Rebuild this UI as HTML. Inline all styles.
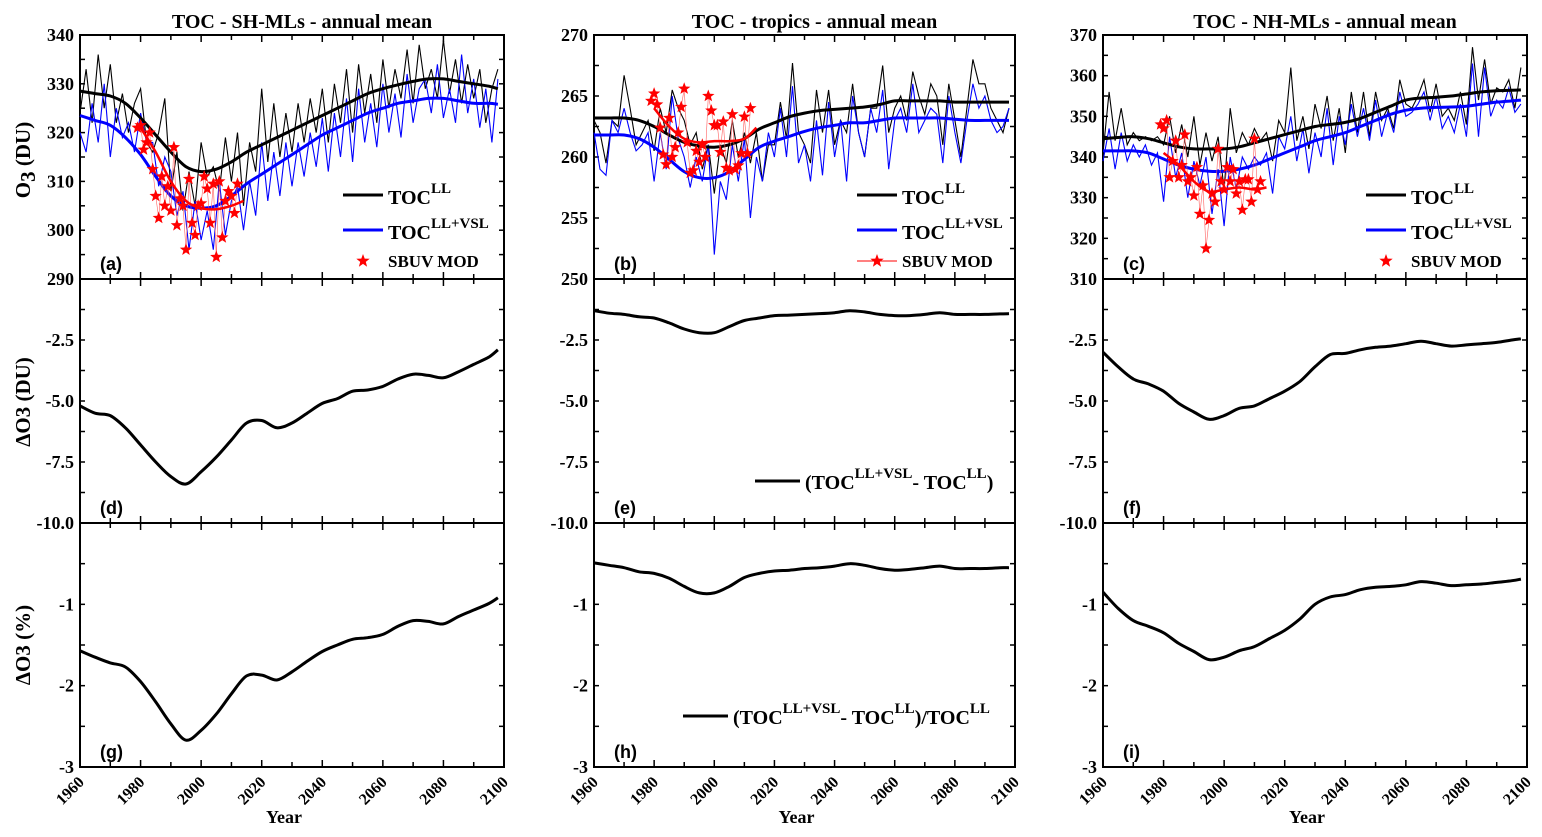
<!DOCTYPE html>
<html><head><meta charset="utf-8"><style>
body{margin:0;background:#fff;}
svg{display:block;font-family:"Liberation Serif",serif;font-weight:bold;}
</style></head><body>
<svg id="chart" width="1542" height="837" viewBox="0 0 1542 837" xmlns="http://www.w3.org/2000/svg"></svg>
<script>
// ---------- DATA ----------
const smoothYears5 = [1960,1965,1970,1975,1980,1985,1990,1995,2000,2005,2010,2015,2020,2025,2030,2035,2040,2045,2050,2055,2060,2065,2070,2075,2080,2085,2090,2095,2098];
const noisyStartYear = 1960; // annual values every 2 years
const sbuvYears = [1979,1980,1981,1982,1983,1984,1985,1986,1987,1988,1989,1990,1991,1992,1993,1994,1995,1996,1997,1998,1999,2000,2001,2002,2003,2004,2005,2006,2007,2008,2009,2010,2011,2012];
const fitYears = [1980,1985,1990,1995,2000,2005,2010,2014];

// SH-MLs
const shLL = [328.5,328,327.5,326,323,319.5,316,313,312,312.5,314,316,317.5,319,320.5,322,323.5,325,326.5,328,329,329.8,330.5,331,331,330.5,330,329.5,329];
const shVSL = [323.5,322.5,321.5,319,315.5,311,307,305,304.5,305,307,309.5,311.5,313.5,315.5,317.5,319.5,321,322.5,324,325,326,326.5,327,327,326.5,326,326,325.8];
const shLLnoisy = [324,333,322,336,325,334,322,328,320,326,329,318,316,320,327,308,316,304,312,305,318,311,313,308,319,310,320,305,318,312,329,314,326,315,324,316,326,318,327,320,329,318,330,322,333,320,334,324,332,322,335,325,333,327,337,326,338,329,333,327,339,328,335,326,334,327,333,322,329,333];
const shVSLnoisy = [320,316,326,318,330,315,325,319,322,316,324,318,318,309,315,312,303,308,296,306,298,304,296,310,299,306,309,300,310,303,318,306,316,307,318,309,318,311,320,313,323,312,324,315,327,314,329,318,326,317,330,320,328,319,332,322,329,331,324,334,323,329,322,336,324,331,321,329,318,331];
const shSBUV = [321,321.5,316.5,318,320,312.5,307,302.5,311,305,309,304,317,301,306.5,305,296,310.5,301.5,299,305,305.5,311,308.5,301.5,309.5,294.5,310,298.5,306,308,307,303.5,309.5];
const shFit = [321,316,310,306,304.5,304.3,305,306];

// Tropics
const trLL = [263.2,263.2,263.2,263,262.5,261.8,261.2,260.9,260.8,261,261.5,262.3,262.8,263.3,263.6,263.8,263.9,264,264.1,264.3,264.6,264.6,264.6,264.6,264.5,264.5,264.5,264.5,264.5];
const trVSL = [261.8,261.8,261.8,261.5,260.8,259.8,258.8,258.3,258.3,258.8,259.8,260.8,261.3,261.7,262.1,262.4,262.6,262.8,262.8,263,263.2,263.2,263.2,263.2,263.1,263,263,263,263];
const trLLnoisy = [263,262,259.5,263,262.5,266.7,264,261,262,263,260.5,264,262,265.5,264,263,261,262,259,261,257,261,259.5,263,260,262,259.5,262,258,261,261,264.5,261.5,267.7,262,261,259.5,265.5,262,265.5,261,263,262,266,262,260,264,264,267.5,262,264,265,263,267,265,263.5,266,265,261,266,263,260,264,268,266,266,264,263,262,264];
const trVSLnoisy = [262,259,258.5,263,262,264,262,260.5,261,262,258,262,259,265,261.5,260,257.5,260,258,261,252,258,256.5,261,258,261.5,255,260,258,262,260,264,260,265.8,259.5,261,258,263,258.5,264.5,260,263,258,265,262,260,264,262,265.5,259,263,264,262,266,262,263,264,263.5,259.5,265,262,259.5,263,266,264,265,263,262,262.5,264];
const trSBUV = [264.6,265.2,264.3,262.4,260.2,259.4,263.2,260,260.8,262,264.1,265.6,261.2,258.7,258.9,260.5,259.6,261,260,265,263.8,262.6,262.6,260.4,262.9,259.1,258.9,263.5,259,259.3,260.3,263.3,260.3,264];
const trFit = [264,262.5,261.5,261.2,261.3,261.3,261.5,262.4];

// NH-MLs
const nhLL = [344.5,344.8,345,344.5,343.5,342.5,342,342,342,342.5,343.5,344.5,345.5,346.5,347.5,348,348.5,349.5,351,352.5,354,354.5,354.7,355,355.5,356,356.3,356.4,356.5];
const nhVSL = [341.5,341.5,341.5,341,339.5,338,337,336.5,336.5,337,338,339.5,341,342.5,344,345,346,347.5,349,350.5,351.5,352,352.2,352.3,352.5,353,353.5,353.8,354];
const nhLLnoisy = [341,356,344,352,343,346,344,345,344,345,343,350,341,348,340,350,338,346,339,345,332,352,341,346,343,347,344,346,339,349,346,362,344,350,342,353,347,355,344,352,341,356,346,356,345,356,349,352,347,359,353,352,355,359,351,358,350,352,349,356,348,367,354,364,353,357,356,359,352,362];
const nhVSLnoisy = [339,347,337,346,339,343,340,343,338,341,329,345,335,341,330,339,333,340,326,337,323,340,332,340,337,340,338,341,331,345,342,350,339,347,336,346,340,352,338,350,343,353,345,352,344,354,345,351,346,356,350,351,353,356,349,355,347,350,346,353,345,363,345,362,350,354,352,357,351,353];
const nhSBUV = [348,347,349,335,339,344,335,338,345.5,334,335,330.5,337.5,326,333,317.5,324.5,331,329,342,334,332,337.5,334,337,331,334,327,334.5,334.5,329,344.5,332,334];
const nhFit = [341,338,334,331.5,332,332.5,332,332.5];

// Differences (DU)
const shDiffDU = [-5.2,-5.5,-5.6,-6.1,-6.8,-7.5,-8.1,-8.4,-7.9,-7.3,-6.6,-5.9,-5.8,-6.1,-5.9,-5.5,-5.1,-4.9,-4.6,-4.55,-4.4,-4.1,-3.9,-3.95,-4.05,-3.8,-3.5,-3.2,-2.9];
const trDiffDU = [-1.3,-1.4,-1.45,-1.55,-1.6,-1.8,-2.05,-2.2,-2.2,-1.95,-1.7,-1.6,-1.5,-1.48,-1.45,-1.42,-1.38,-1.3,-1.35,-1.45,-1.5,-1.5,-1.45,-1.38,-1.45,-1.45,-1.45,-1.43,-1.42];
const nhDiffDU = [-3.0,-3.6,-4.1,-4.3,-4.6,-5.1,-5.45,-5.75,-5.6,-5.3,-5.2,-4.9,-4.6,-4.2,-3.6,-3.1,-3.05,-2.9,-2.8,-2.75,-2.65,-2.55,-2.65,-2.75,-2.7,-2.65,-2.6,-2.5,-2.45];
// Differences (%)
const shDiffPct = [-1.57,-1.65,-1.72,-1.77,-1.95,-2.2,-2.47,-2.67,-2.55,-2.35,-2.1,-1.88,-1.87,-1.93,-1.83,-1.7,-1.58,-1.5,-1.43,-1.41,-1.37,-1.27,-1.2,-1.21,-1.24,-1.15,-1.07,-0.99,-0.92];
const trDiffPct = [-0.49,-0.52,-0.55,-0.6,-0.62,-0.68,-0.78,-0.86,-0.86,-0.78,-0.67,-0.62,-0.59,-0.58,-0.56,-0.55,-0.53,-0.5,-0.52,-0.56,-0.58,-0.57,-0.55,-0.53,-0.56,-0.56,-0.56,-0.55,-0.55];
const nhDiffPct = [-0.85,-1.05,-1.2,-1.27,-1.35,-1.48,-1.58,-1.68,-1.65,-1.57,-1.52,-1.42,-1.32,-1.18,-1.0,-0.91,-0.88,-0.82,-0.79,-0.78,-0.76,-0.72,-0.74,-0.77,-0.76,-0.75,-0.73,-0.71,-0.69];

const xTickYears = [1960,1980,2000,2020,2040,2060,2080,2100];
const titles = ["TOC - SH-MLs - annual mean","TOC -  tropics - annual mean","TOC - NH-MLs - annual mean"];

// ---------- LAYOUT ----------
const svg = document.getElementById('chart');
const NS = 'http://www.w3.org/2000/svg';
function mk(tag, attrs, parent){const e=document.createElementNS(NS,tag);for(const k in attrs)e.setAttribute(k,attrs[k]);(parent||svg).appendChild(e);return e;}

const cols = [{x0:80,x1:504},{x0:594,x1:1015},{x0:1103,x1:1527}];
const rows = [{y0:35,y1:279},{y0:279,y1:523},{y0:523,y1:767}];
const topRanges = [[290,340],[250,270],[310,370]];
const topData = [
 {ll:shLL,vsl:shVSL,lln:shLLnoisy,vsln:shVSLnoisy,sb:shSBUV,fit:shFit},
 {ll:trLL,vsl:trVSL,lln:trLLnoisy,vsln:trVSLnoisy,sb:trSBUV,fit:trFit},
 {ll:nhLL,vsl:nhVSL,lln:nhLLnoisy,vsln:nhVSLnoisy,sb:nhSBUV,fit:nhFit}];
const duData=[shDiffDU,trDiffDU,nhDiffDU], pctData=[shDiffPct,trDiffPct,nhDiffPct];
const letters=[['a','d','g'],['b','e','h'],['c','f','i']];

function xS(c,yr){return c.x0+(yr-1960)/140*(c.x1-c.x0);}
function yS(r,rng,v){return r.y1-(v-rng[0])/(rng[1]-rng[0])*(r.y1-r.y0);}
function smoothPath(pts){
  let d='M'+pts[0][0].toFixed(1)+','+pts[0][1].toFixed(1);
  for(let i=0;i<pts.length-1;i++){
    const p0=pts[i-1]||pts[i],p1=pts[i],p2=pts[i+1],p3=pts[i+2]||p2;
    const c1=[p1[0]+(p2[0]-p0[0])/6,p1[1]+(p2[1]-p0[1])/6],c2=[p2[0]-(p3[0]-p1[0])/6,p2[1]-(p3[1]-p1[1])/6];
    d+='C'+c1.map(v=>v.toFixed(1))+' '+c2.map(v=>v.toFixed(1))+' '+p2.map(v=>v.toFixed(1));
  }
  return d;
}
function polyPath(pts){return 'M'+pts.map(p=>p[0].toFixed(1)+','+p[1].toFixed(1)).join('L');}
function star(cx,cy,r){let p=[];for(let i=0;i<10;i++){const a=-Math.PI/2+i*Math.PI/5,rr=i%2?r*0.42:r;p.push((cx+rr*Math.cos(a)).toFixed(1)+','+(cy+rr*Math.sin(a)).toFixed(1));}return p.join(' ');}
function label(x,y,txt,size,anchor,name,extra){const t=mk('text',Object.assign({x:x,y:y,'font-size':size,'text-anchor':anchor||'start'},extra||{}));t.textContent=txt;return t;}

function drawAxes(c,r,rng,ticks,tickLabels,minorStep,ci,ri){
  const g=mk('g',{});
  
  
  mk('rect',{x:c.x0,y:r.y0,width:c.x1-c.x0,height:r.y1-r.y0,fill:'none',stroke:'#000','stroke-width':2},g);
  for(let yr=1960;yr<=2100;yr+=10){
    const x=xS(c,yr),L=yr%20===0?7:5;
    mk('line',{x1:x,x2:x,y1:r.y1,y2:r.y1-L,stroke:'#000','stroke-width':1.5},g);
    mk('line',{x1:x,x2:x,y1:r.y0,y2:r.y0+L,stroke:'#000','stroke-width':1.5},g);
  }
  for(let v=rng[0];v<=rng[1]+1e-9;v+=minorStep){
    const y=yS(r,rng,v);
    mk('line',{x1:c.x0,x2:c.x0+5,y1:y,y2:y,stroke:'#000','stroke-width':1.5},g);
    mk('line',{x1:c.x1,x2:c.x1-5,y1:y,y2:y,stroke:'#000','stroke-width':1.5},g);
  }
  ticks.forEach((v,i)=>{
    const y=yS(r,rng,v);
    label(c.x0-6,y+6,tickLabels[i],18,'end','y-tick-label');
  });
  label(c.x0+20,r.y1-9,'('+letters[ci][ri]+')',18,'start','panel-label-'+letters[ci][ri],{'font-family':'Liberation Sans, sans-serif'});
}

cols.forEach((c,ci)=>{
  label((c.x0+c.x1)/2+10,28,titles[ci],20,'middle','panel-title');
  const r=rows[0],rng=topRanges[ci],D=topData[ci];
  const step=ci===1?5:10;
  const tks=[],tkl=[];
  for(let v=rng[0];v<=rng[1];v+=step){tks.push(v);tkl.push(String(v));}
  drawAxes(c,r,rng,tks,tkl,step/2,ci,0);
  const np=a=>a.map((v,i)=>[xS(c,noisyStartYear+i*2),yS(r,rng,v)]);
  const l1=mk('path',{d:polyPath(np(D.lln)),fill:'none',stroke:'#000','stroke-width':1.1});
  
  
  const l2=mk('path',{d:polyPath(np(D.vsln)),fill:'none',stroke:'#0000ff','stroke-width':1.1});
  
  
  const sp=a=>a.map((v,i)=>[xS(c,smoothYears5[i]),yS(r,rng,v)]);
  const s1=mk('path',{d:smoothPath(sp(D.ll)),fill:'none',stroke:'#000','stroke-width':3});
  
  
  const s2=mk('path',{d:smoothPath(sp(D.vsl)),fill:'none',stroke:'#0000ff','stroke-width':3});
  
  
  const sbPts=D.sb.map((v,i)=>[xS(c,sbuvYears[i]),yS(r,rng,v)]);
  const sl=mk('path',{d:polyPath(sbPts),fill:'none',stroke:'#ff6060','stroke-width':0.6});
  
  
  const fp=mk('path',{d:smoothPath(D.fit.map((v,i)=>[xS(c,fitYears[i]),yS(r,rng,v)])),fill:'none',stroke:'#ff0000','stroke-width':2.5});
  
  
  sbPts.forEach(p=>{
    const s=mk('polygon',{points:star(p[0],p[1],6.5),fill:'#ff0000'});
    
    
  });
  const lx=c.x0+263;
  const lg=mk('g',{});
  
  
  mk('line',{x1:lx,x2:lx+40,y1:195,y2:195,stroke:'#000','stroke-width':3},lg);
  mk('line',{x1:lx,x2:lx+40,y1:230,y2:230,stroke:'#0000ff','stroke-width':3},lg);
  if(ci===1) mk('line',{x1:lx,x2:lx+40,y1:261,y2:261,stroke:'#ff0000','stroke-width':1},lg);
  mk('polygon',{points:star(lx+20,261,7),fill:'#ff0000'},lg);
  const t1=label(lx+45,204,'TOC',20,'start','legend-entry-toc-ll');
  const ts1=mk('tspan',{dy:-11,'font-size':15},t1);ts1.textContent='LL';
  const t2=label(lx+45,239,'TOC',20,'start','legend-entry-toc-ll-vsl');
  const ts2=mk('tspan',{dy:-11,'font-size':15},t2);ts2.textContent='LL+VSL';
  label(lx+45,267,'SBUV MOD',17,'start','legend-entry-sbuv');

  const r2=rows[1],rng2=[-10,0];
  drawAxes(c,r2,rng2,[-2.5,-5,-7.5,-10],['-2.5','-5.0','-7.5','-10.0'],1.25,ci,1);
  const d1=mk('path',{d:smoothPath(duData[ci].map((v,i)=>[xS(c,smoothYears5[i]),yS(r2,rng2,v)])),fill:'none',stroke:'#000','stroke-width':3});
  
  
  const r3=rows[2],rng3=[-3,0];
  drawAxes(c,r3,rng3,[-1,-2,-3],['-1','-2','-3'],0.5,ci,2);
  const d2=mk('path',{d:smoothPath(pctData[ci].map((v,i)=>[xS(c,smoothYears5[i]),yS(r3,rng3,v)])),fill:'none',stroke:'#000','stroke-width':3});
  
  
  xTickYears.forEach(yr=>{
    const x=xS(c,yr)+5,y=783;
    label(x,y,String(yr),16,'end','x-tick-label',{transform:'rotate(-45 '+x+' '+y+')'});
  });
  label((c.x0+c.x1)/2-8,823,'Year',18,'middle','x-axis-title');
});

let e1=mk('line',{x1:755,x2:800,y1:481,y2:481,stroke:'#000','stroke-width':3});


let et=label(805,489,'(TOC',20,'start','legend-entry-diff-du');
let a=mk('tspan',{dy:-11,'font-size':15},et);a.textContent='LL+VSL';
a=mk('tspan',{dy:11},et);a.textContent='- TOC';
a=mk('tspan',{dy:-11,'font-size':15},et);a.textContent='LL';
a=mk('tspan',{dy:11},et);a.textContent=')';
let h1=mk('line',{x1:683,x2:728,y1:716,y2:716,stroke:'#000','stroke-width':3});


et=label(733,724,'(TOC',20,'start','legend-entry-diff-percent');
a=mk('tspan',{dy:-11,'font-size':15},et);a.textContent='LL+VSL';
a=mk('tspan',{dy:11},et);a.textContent='- TOC';
a=mk('tspan',{dy:-11,'font-size':15},et);a.textContent='LL';
a=mk('tspan',{dy:11},et);a.textContent=')/TOC';
a=mk('tspan',{dy:-11,'font-size':15},et);a.textContent='LL';

function yTitle(cy,parts,name){
  const t=mk('text',{x:0,y:0,'font-size':21,'text-anchor':'middle',transform:'translate(30 '+cy+') rotate(-90)'});
  
  
  parts.forEach(p=>{const s=mk('tspan',p[1]?{dy:p[1]}:{},t);s.textContent=p[0];});
}
yTitle(160,[['O'],['3',5],[' (DU)',-5]],'y-axis-title-o3');
yTitle(402,[['ΔO3 (DU)']],'y-axis-title-delta-du');
yTitle(645,[['ΔO3 (%)']],'y-axis-title-delta-percent');
</script>
</body></html>
